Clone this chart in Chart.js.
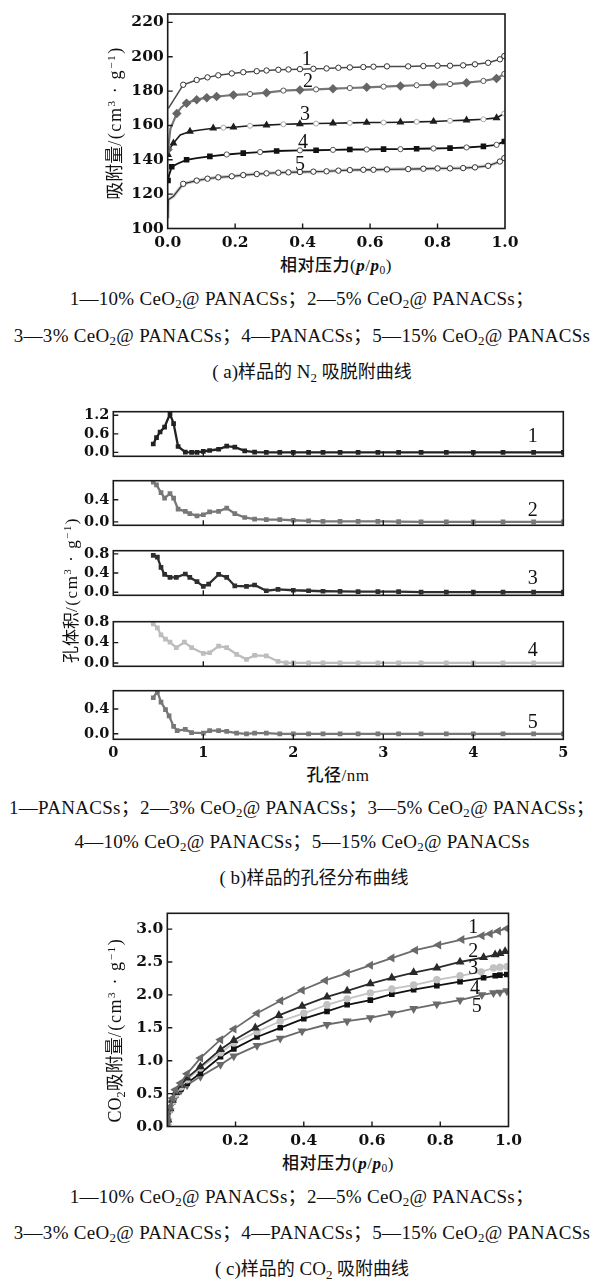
<!DOCTYPE html>
<html><head><meta charset="utf-8">
<script src="https://cdn.jsdelivr.net/npm/chart.js@4.4.1/dist/chart.umd.min.js"></script>
<style>
html,body{margin:0;padding:0;background:#fff;}
#page{position:relative;width:604px;height:1283px;overflow:hidden;background:#fff;}
canvas{position:absolute;}
.t{position:absolute;white-space:nowrap;transform:translate(-50%,-50%);font-family:"Liberation Serif","Noto Sans CJK SC",serif;color:#111;line-height:1;}
.cap{font-size:19px;letter-spacing:0.3px;}
.cn{font-family:"Noto Sans CJK SC",sans-serif;color:#111;}
.ttl{font-size:19px;}
.ttl .cn{font-size:18px;}
.ax{font-size:17px;letter-spacing:0.5px;}
.ax .cn{font-weight:500;}
.ax i{font-weight:bold;font-family:"Liberation Serif",serif;}
.yt{transform:translate(-50%,-50%) rotate(-90deg);font-size:18px;filter:grayscale(1);-webkit-font-smoothing:antialiased;}
.yt .u{letter-spacing:1.6px;}
sub{font-size:68%;vertical-align:-0.3em;line-height:0;}
sup{font-size:62%;vertical-align:0.55em;line-height:0;}
</style></head>
<body><div id="page">
<div class="t ax" style="left:336px;top:264px"><span class="cn">相对压力</span>(<i>p</i>/<i>p</i><sub>0</sub>)</div>
<div class="t yt" style="left:114px;top:123px"><span class="cn">吸附量</span><span class="u">/(cm<sup>3</sup> · g<sup>−1</sup>)</span></div>
<div class="t cap" style="left:302px;top:298px">1—10% CeO<sub>2</sub>@ PANACSs；2—5% CeO<sub>2</sub>@ PANACSs；</div>
<div class="t cap" style="left:302px;top:335px">3—3% CeO<sub>2</sub>@ PANACSs；4—PANACSs；5—15% CeO<sub>2</sub>@ PANACSs</div>
<div class="t ttl" style="left:312px;top:371px">( a)<span class="cn">样品的</span> N<sub>2</sub> <span class="cn">吸脱附曲线</span></div>

<div class="t ax" style="left:338px;top:774px"><span class="cn">孔径</span>/nm</div>
<div class="t yt" style="left:70px;top:590px;font-size:17px"><span class="cn">孔体积</span><span class="u">/(cm<sup>3</sup> · g<sup>−1</sup>)</span></div>
<div class="t cap" style="left:302px;top:807px">1—PANACSs；2—3% CeO<sub>2</sub>@ PANACSs；3—5% CeO<sub>2</sub>@ PANACSs；</div>
<div class="t cap" style="left:302px;top:841px">4—10% CeO<sub>2</sub>@ PANACSs；5—15% CeO<sub>2</sub>@ PANACSs</div>
<div class="t ttl" style="left:314px;top:877px">( b)<span class="cn">样品的孔径分布曲线</span></div>

<div class="t ax" style="left:338px;top:1162px"><span class="cn">相对压力</span>(<i>p</i>/<i>p</i><sub>0</sub>)</div>
<div class="t yt" style="left:114px;top:1030px">CO<sub>2</sub><span class="cn">吸附量</span><span class="u">/(cm<sup>3</sup> · g<sup>−1</sup>)</span></div>
<div class="t cap" style="left:302px;top:1196px">1—10% CeO<sub>2</sub>@ PANACSs；2—5% CeO<sub>2</sub>@ PANACSs；</div>
<div class="t cap" style="left:302px;top:1232px">3—3% CeO<sub>2</sub>@ PANACSs；4—PANACSs；5—15% CeO<sub>2</sub>@ PANACSs</div>
<div class="t ttl" style="left:312px;top:1268px">( c)<span class="cn">样品的</span> CO<sub>2</sub> <span class="cn">吸附曲线</span></div>
</div>
<script>
// ---------- (a) N2 adsorption ----------
const aX1 = [0.002,0.046,0.086,0.118,0.15,0.19,0.224,0.264,0.293,0.328,0.358,0.392,0.432,0.471,0.506,0.54,0.58,0.61,0.65,0.713,0.758,0.80,0.837,0.876,0.911,0.95,0.985,0.998];
const aY1 = [170,183.7,186.5,188,189.2,190.3,191,191.6,192,192.4,192.6,192.8,193,193.2,193.6,193.8,194,194.2,194.4,194.4,194.6,194.8,194.8,195,195.6,196.5,198.5,200.4];
const aX2 = [0.001,0.008,0.027,0.04,0.056,0.07,0.086,0.1,0.116,0.13,0.145,0.17,0.195,0.244,0.293,0.343,0.392,0.44,0.49,0.54,0.59,0.64,0.69,0.738,0.788,0.837,0.886,0.936,0.975,0.998];
const aY2 = [146,158,167,170.5,173,174,174.9,175.6,176.2,176.5,176.8,177.3,177.8,178.3,179.1,180.3,180.7,181,181.4,181.8,182.2,182.6,183,183.4,183.7,184.1,184.9,185.9,187.4,190];
const aX3 = [0.001,0.008,0.017,0.037,0.066,0.096,0.135,0.165,0.195,0.244,0.293,0.343,0.392,0.44,0.49,0.54,0.59,0.64,0.69,0.738,0.788,0.837,0.886,0.936,0.975,0.998];
const aY3 = [143,147,149.7,154.5,156.5,157.4,158.4,158.7,159,159.8,160.2,160.7,160.9,161.1,161.3,161.5,161.7,161.7,161.9,162.1,162.3,162.7,163.1,163.6,164.4,167];
const aX4 = [0.001,0.004,0.012,0.032,0.056,0.086,0.125,0.175,0.224,0.274,0.323,0.392,0.44,0.49,0.54,0.59,0.64,0.69,0.738,0.788,0.837,0.886,0.936,0.975,0.998];
const aY4 = [128,131,136,138,140,141,142,143.1,143.9,144.5,145.1,145.5,145.6,145.8,146,146,146.2,146.2,146.4,146.6,146.8,147.2,147.8,148.7,150.7];
const aX5 = [0.0005,0.002,0.017,0.046,0.086,0.118,0.15,0.19,0.224,0.264,0.293,0.328,0.358,0.392,0.432,0.471,0.506,0.54,0.58,0.61,0.65,0.713,0.758,0.80,0.837,0.876,0.911,0.95,0.985,0.998];
const aY5 = [106,116.8,118.8,126,127.9,129,129.8,130.4,131.1,131.7,132.1,132.5,132.7,132.9,133.1,133.3,133.7,134,134.2,134.2,134.4,134.6,134.8,135,135,135.2,135.6,136.5,139,141];
const aXTicks = [0,0.2,0.4,0.6,0.8,1.0];
const aYTicks = [100,120,140,160,180,200,220];
const aLabels = ['1','2','3','4','5'];
const aLabelX = [0.412,0.416,0.407,0.401,0.392];
const aLabelY = [198.1,185.5,166.2,149.9,137.1];

// ---------- (b) pore size distribution ----------
const bX1 = [0.444,0.48,0.52,0.57,0.63,0.67,0.72,0.80,0.87,0.93,1.0,1.07,1.17,1.26,1.35,1.46,1.57,1.7,1.85,2.0,2.17,2.33,2.52,2.72,2.94,3.17,3.42,3.70,4.0,4.33,4.67,5.0];
const bY1 = [0.27,0.48,0.66,0.82,1.25,0.93,0.19,0.01,0,0,0.03,0.06,0.1,0.2,0.17,0.05,0.01,0,0,0,0,0,0,0,0,0,0,0,0,0,0,0];
const bX2 = [0.444,0.48,0.53,0.57,0.63,0.67,0.72,0.80,0.85,0.93,1.0,1.07,1.17,1.26,1.35,1.46,1.57,1.7,1.85,2.0,2.17,2.33,2.52,2.72,2.94,3.17,3.42,3.70,4.0,4.33,4.67,5.0];
const bY2 = [0.72,0.67,0.53,0.43,0.51,0.43,0.23,0.19,0.15,0.11,0.13,0.18,0.19,0.25,0.15,0.08,0.05,0.04,0.04,0.03,0.02,0.01,0.01,0.01,0.01,0.005,0,0,0,0,0,0];
const bX3 = [0.444,0.49,0.53,0.57,0.63,0.70,0.80,0.85,0.93,1.0,1.06,1.17,1.26,1.35,1.48,1.57,1.7,1.83,2.0,2.17,2.33,2.52,2.72,2.94,3.17,3.42,3.70,4.0,4.33,4.67,5.0];
const bY3 = [0.77,0.73,0.52,0.37,0.31,0.31,0.38,0.31,0.22,0.12,0.17,0.37,0.31,0.13,0.12,0.15,0.03,0.06,0.04,0.03,0.02,0.015,0.01,0.01,0.01,0,0,0,0,0,0];
const bX4 = [0.444,0.49,0.53,0.58,0.63,0.70,0.79,0.87,1.0,1.07,1.17,1.26,1.37,1.48,1.57,1.7,1.83,1.92,2.0,2.17,2.33,2.52,2.72,2.94,3.17,3.42,3.70,4.0,4.33,4.67,5.0];
const bY4 = [0.77,0.69,0.55,0.47,0.41,0.30,0.41,0.30,0.19,0.2,0.33,0.30,0.17,0.07,0.15,0.14,0.03,0,0,0,0,0,0,0,0,0,0,0,0,0,0];
const bX5 = [0.444,0.49,0.53,0.58,0.62,0.67,0.71,0.80,0.87,1.0,1.07,1.17,1.26,1.37,1.48,1.57,1.7,1.85,2.0,2.17,2.33,2.52,2.72,2.94,3.17,3.42,3.70,4.0,4.33,4.67,5.0];
const bY5 = [0.58,0.68,0.51,0.39,0.29,0.12,0.05,0.07,0.02,0.01,0.05,0.05,0.04,0.01,0,0.01,0.01,0,0,0,0,0,0,0,0,0,0,0,0,0,0];
const bXTicks = [0,1,2,3,4,5];
const bYTicks1 = [0,0.6,1.2];
const bYTicks2 = [0,0.4];
const bYTicks3 = [0,0.4,0.8];
const bYTicks4 = [0,0.4,0.8];
const bYTicks5 = [0,0.4];
const bLabels = ['1','2','3','4','5'];
const bLabelX = [4.66,4.66,4.66,4.66,4.66];
const bLabelY = [0.49,0.20,0.28,0.24,0.18];

// ---------- (c) CO2 adsorption ----------
const cX1 = [0,0.002,0.008,0.015,0.024,0.039,0.058,0.097,0.156,0.195,0.263,0.332,0.395,0.463,0.527,0.595,0.658,0.727,0.795,0.863,0.922,0.946,0.970,0.995];
const cY1 = [0,0.12,0.3,0.43,0.56,0.66,0.80,1.04,1.32,1.48,1.72,1.91,2.07,2.22,2.33,2.45,2.56,2.68,2.76,2.84,2.90,2.93,2.97,3.01];
const cX2 = [0,0.002,0.008,0.015,0.025,0.04,0.058,0.097,0.156,0.195,0.258,0.327,0.395,0.468,0.527,0.595,0.658,0.722,0.790,0.858,0.927,0.961,0.975,0.990];
const cY2 = [0,0.1,0.27,0.4,0.52,0.63,0.74,0.91,1.17,1.31,1.50,1.69,1.83,1.97,2.06,2.17,2.26,2.34,2.41,2.50,2.57,2.61,2.63,2.66];
const cX3 = [0,0.002,0.008,0.015,0.025,0.04,0.058,0.097,0.156,0.195,0.263,0.331,0.40,0.468,0.527,0.595,0.658,0.722,0.790,0.858,0.92,0.956,0.975,0.995];
const cY3 = [0,0.1,0.26,0.38,0.49,0.6,0.71,0.89,1.12,1.27,1.44,1.60,1.72,1.85,1.94,2.03,2.09,2.15,2.23,2.29,2.35,2.41,2.42,2.43];
const cX4 = [0,0.002,0.008,0.015,0.025,0.04,0.058,0.097,0.156,0.195,0.263,0.331,0.40,0.468,0.527,0.595,0.658,0.722,0.790,0.858,0.927,0.961,0.975,0.995];
const cY4 = [0,0.09,0.25,0.37,0.48,0.57,0.66,0.81,1.06,1.18,1.36,1.50,1.64,1.75,1.85,1.92,2.01,2.08,2.14,2.20,2.26,2.29,2.30,2.31];
const cX5 = [0,0.002,0.008,0.015,0.025,0.04,0.058,0.097,0.156,0.195,0.263,0.331,0.395,0.468,0.527,0.595,0.658,0.722,0.790,0.858,0.922,0.956,0.975,0.995];
const cY5 = [0,0.08,0.24,0.36,0.46,0.55,0.63,0.76,0.94,1.07,1.23,1.34,1.45,1.55,1.60,1.65,1.72,1.79,1.86,1.92,2.0,2.03,2.04,2.06];
const cXTicks = [0.2,0.4,0.6,0.8,1.0];
const cYTicks = [0,0.5,1.0,1.5,2.0,2.5,3.0];
const cLabels = ['1','2','3','4','5'];
const cLabelX = [0.897,0.897,0.897,0.902,0.907];
const cLabelY = [3.02,2.66,2.40,2.10,1.82];

// ---------- helpers ----------
const page = document.getElementById('page');

const framePlugin = {
  id:'frame',
  afterDraw(chart, args, opts){
    const {ctx, chartArea:a, scales} = chart;
    const xs = scales.x, ys = scales.y;
    ctx.save();
    ctx.strokeStyle = '#1a1a1a'; ctx.lineWidth = 1.6;
    ctx.strokeRect(a.left, a.top, a.right-a.left, a.bottom-a.top);
    ctx.lineWidth = 1.4;
    ctx.beginPath();
    xs.ticks.forEach(t=>{const p = xs.getPixelForValue(t.value); if(p>a.left+2 && p<a.right-2){ctx.moveTo(p,a.bottom); ctx.lineTo(p,a.bottom-5);}});
    ys.ticks.forEach(t=>{const p = ys.getPixelForValue(t.value); if(p>a.top+2 && p<a.bottom-1){ctx.moveTo(a.left,p); ctx.lineTo(a.left+5,p);}});
    ctx.stroke();
    const L = opts.labels;
    if (L) {
      ctx.fillStyle = '#111';
      ctx.font = '20px "Liberation Serif", serif';
      ctx.textAlign = 'center'; ctx.textBaseline = 'middle';
      L.t.forEach((s,i)=>ctx.fillText(s, xs.getPixelForValue(L.x[i]), ys.getPixelForValue(L.y[i])));
    }
    ctx.restore();
  }
};

function pts(xs, ys){ return xs.map((x,i)=>({x:x, y:ys[i]})); }

function build(o){
  const cv = document.createElement('canvas');
  cv.width = o.w; cv.height = o.h;
  cv.style.left = o.left+'px'; cv.style.top = o.top+'px';
  cv.style.width = o.w+'px'; cv.style.height = o.h+'px';
  page.appendChild(cv);
  const xH = o.showX ? o.xH : 0;
  const font = {family:'"DejaVu Serif", serif', weight:'bold', size:o.fs||15};
  const padding = {left:o.area.l-o.left-o.yW, right:o.left+o.w-o.area.r, top:o.area.t-o.top, bottom:o.top+o.h-o.area.b-xH};
  new Chart(cv, {
    type:'scatter',
    data:{datasets:o.datasets},
    options:{
      responsive:false, animation:false, devicePixelRatio:1,
      layout:{padding:padding},
      plugins:{legend:{display:false}, tooltip:{enabled:false}, frame:{labels:o.labels}},
      scales:{
        x:{type:'linear', min:o.xMin, max:o.xMax,
           grid:{display:false, drawTicks:false}, border:{display:false},
           ticks:{display:!!o.showX, font:font, color:'#111', padding:o.xPad||5, maxRotation:0, autoSkip:false,
                  callback:v=>Number(v).toFixed(o.xDec)},
           afterBuildTicks:s=>{s.ticks = o.xTicks.map(v=>({value:v}));},
           afterFit:s=>{s.height = xH;}},
        y:{type:'linear', min:o.yMin, max:o.yMax,
           grid:{display:false, drawTicks:false}, border:{display:false},
           ticks:{font:font, color:'#111', padding:4, autoSkip:false,
                  callback:v=>Number(v).toFixed(o.yDec)},
           afterBuildTicks:s=>{s.ticks = o.yTicks.map(v=>({value:v}));},
           afterFit:s=>{s.width = o.yW;}}
      }
    },
    plugins:[framePlugin]
  });
}

const even = r => (c => c.dataIndex % 2 ? 0 : r);

// ---------- panel (a) ----------
build({left:0, top:0, w:604, h:262, area:{l:167.7,t:14,r:505,b:228.5}, yW:60, xH:24, showX:true, xPad:5, fs:15.5,
  xMin:0, xMax:1, yMin:100, yMax:224.9, xTicks:aXTicks, yTicks:aYTicks, xDec:1, yDec:0,
  labels:{t:aLabels, x:aLabelX, y:aLabelY},
  datasets:[
    {data:pts(aX5,aY5), showLine:true, borderColor:'#cfcfcf', borderWidth:3.5, pointRadius:0, order:20},
    {data:pts(aX5,aY5), showLine:true, borderColor:'#3a3a3a', borderWidth:1.3, pointRadius:c=>c.dataIndex<3?0:2.7, pointStyle:'circle', backgroundColor:'#fff', pointBorderColor:'#333', pointBorderWidth:1, order:5},
    {data:pts(aX1,aY1), showLine:true, borderColor:'#4a4a4a', borderWidth:1.5, pointRadius:c=>c.dataIndex<1?0:2.7, pointStyle:'circle', backgroundColor:'#fff', pointBorderColor:'#333', pointBorderWidth:1, order:1},
    {data:pts(aX2,aY2), showLine:true, borderColor:'#777', borderWidth:2.2, pointRadius:even(3.2), pointStyle:'rectRot', backgroundColor:'#666', pointBorderColor:'#666', order:3},
    {data:pts(aX2,aY2), showLine:false, pointRadius:c=>(c.dataIndex%2 && c.dataIndex>12)?2.6:0, pointStyle:'circle', backgroundColor:'#fff', borderColor:'#555', pointBorderWidth:1, order:2},
    {data:pts(aX3,aY3), showLine:true, borderColor:'#1e1e1e', borderWidth:1.6, pointRadius:even(3), pointStyle:'triangle', backgroundColor:'#1e1e1e', pointBorderColor:'#1e1e1e', order:4},
    {data:pts(aX3,aY3), showLine:false, pointRadius:c=>(c.dataIndex%2 && c.dataIndex>6)?2.5:0, pointStyle:'circle', backgroundColor:'#fff', borderColor:'#aaa', pointBorderWidth:1, order:3},
    {data:pts(aX4,aY4), showLine:true, borderColor:'#111', borderWidth:1.9, pointRadius:even(2.6), pointStyle:'rect', backgroundColor:'#111', pointBorderColor:'#111', order:6},
    {data:pts(aX4,aY4), showLine:false, pointRadius:c=>(c.dataIndex%2 && c.dataIndex>6)?2.6:0, pointStyle:'circle', backgroundColor:'#fff', borderColor:'#555', pointBorderWidth:1, order:5}
  ]});

// ---------- panel (b) ----------
const bBase = {left:0, w:604, yW:50, xH:22, xMin:0, xMax:5, xTicks:bXTicks, xDec:0, yDec:1, fs:14.5, xPad:5};
const bSub = [
  {top:399, h:70, area:{l:113.3,t:407.7,r:563.3,b:460.7}, yMin:-0.128, yMax:1.317, yTicks:bYTicks1, X:bX1, Y:bY1, col:'#222'},
  {top:468, h:70, area:{l:113.3,t:476,r:563.3,b:529}, yMin:-0.061, yMax:0.745, yTicks:bYTicks2, X:bX2, Y:bY2, col:'#787878'},
  {top:538, h:70, area:{l:113.3,t:546.7,r:563.3,b:600}, yMin:-0.065, yMax:0.866, yTicks:bYTicks3, X:bX3, Y:bY3, col:'#2e2e2e'},
  {top:609, h:70, area:{l:113.3,t:617.7,r:563.3,b:670.7}, yMin:-0.066, yMax:0.811, yTicks:bYTicks4, X:bX4, Y:bY4, col:'#bdbdbd'},
  {top:678, h:90, area:{l:113.3,t:686,r:563.3,b:739.3}, yMin:-0.088, yMax:0.693, yTicks:bYTicks5, X:bX5, Y:bY5, col:'#777', showX:true}
];
bSub.forEach((s,i)=>{
  build(Object.assign({}, bBase, s, {
    labels:{t:[bLabels[i]], x:[bLabelX[i]], y:[bLabelY[i]]},
    datasets:[{data:pts(s.X,s.Y), showLine:true, borderColor:s.col, borderWidth:2.3, pointRadius:1.7, pointStyle:'rect', backgroundColor:s.col, pointBorderColor:s.col}]
  }));
});

// ---------- panel (c) ----------
build({left:0, top:900, w:604, h:262, area:{l:167.3,t:912.7,r:508.5,b:1126.5}, yW:60, xH:24, showX:true, xPad:5, fs:15.5,
  xMin:0, xMax:1, yMin:0, yMax:3.24, xTicks:cXTicks, yTicks:cYTicks, xDec:1, yDec:1,
  labels:{t:cLabels, x:cLabelX, y:cLabelY},
  datasets:[
    {data:pts(cX1,cY1), showLine:true, borderColor:'#6a6a6a', borderWidth:1.8, pointRadius:3.4, pointStyle:'triangle', rotation:-90, backgroundColor:'#6a6a6a', pointBorderColor:'#6a6a6a'},
    {data:pts(cX2,cY2), showLine:true, borderColor:'#2a2a2a', borderWidth:1.8, pointRadius:3.4, pointStyle:'triangle', backgroundColor:'#2a2a2a', pointBorderColor:'#2a2a2a'},
    {data:pts(cX3,cY3), showLine:true, borderColor:'#c2c2c2', borderWidth:1.8, pointRadius:2.8, pointStyle:'circle', backgroundColor:'#c2c2c2', pointBorderColor:'#c2c2c2'},
    {data:pts(cX4,cY4), showLine:true, borderColor:'#111', borderWidth:1.8, pointRadius:2.7, pointStyle:'rect', backgroundColor:'#111', pointBorderColor:'#111'},
    {data:pts(cX5,cY5), showLine:true, borderColor:'#6a6a6a', borderWidth:1.8, pointRadius:3.4, pointStyle:'triangle', rotation:180, backgroundColor:'#6a6a6a', pointBorderColor:'#6a6a6a'}
  ]});
</script>
</body></html>
